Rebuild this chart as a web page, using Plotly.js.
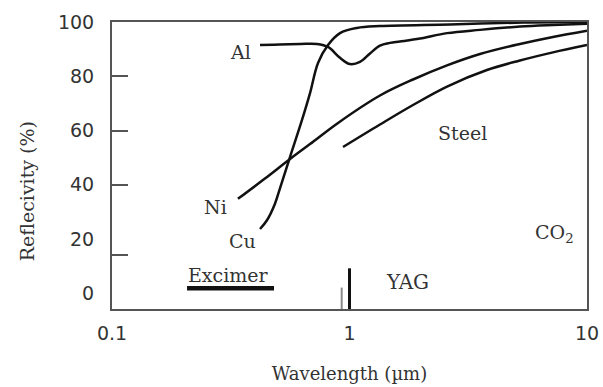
<!DOCTYPE html>
<html>
<head>
<meta charset="utf-8">
<script src="https://cdn.plot.ly/plotly-3.0.1.min.js"></script>
<style>
  html, body { margin: 0; padding: 0; background: #fff; }
  #chart { width: 603px; height: 387px; }
</style>
</head>
<body>
<div id="chart"></div>
<script>
// Reflectivity of metals versus wavelength (log scale, µm)
const wlAl    = [0.42, 0.62, 0.73, 0.812, 0.912, 1.005, 1.107, 1.22, 1.344, 1.481, 1.63, 1.981, 2.574, 3.544, 5.22, 7.19, 10];
const refAl   = [91.5, 91.9, 91.9, 90.8, 86.8, 84.5, 85.3, 88.4, 91.3, 92.3, 92.8, 93.9, 95.9, 97.1, 98.3, 98.9, 99.4];

const wlCu    = [0.42, 0.45, 0.485, 0.51, 0.562, 0.631, 0.682, 0.737, 0.812, 0.912, 1.075, 1.344, 2.65, 5.38, 10];
const refCu   = [23.7, 27.0, 32.9, 38.8, 50.3, 63.9, 73.8, 84.9, 91.5, 95.9, 97.8, 98.5, 99.1, 99.8, 100];

const wlNi    = [0.339, 0.4406, 0.562, 0.682, 0.895, 1.344, 1.851, 2.574, 3.544, 5.22, 7.19, 10];
const refNi   = [34.8, 42.3, 49.5, 55.0, 62.8, 72.9, 78.8, 84.0, 88.2, 91.9, 94.5, 96.8];

const wlSteel  = [0.939, 1.344, 1.851, 2.574, 3.79, 5.22, 7.19, 10];
const refSteel = [53.9, 62.2, 69.4, 76.2, 82.3, 85.8, 88.8, 91.5];

// Laser bands along the bottom
const excimerWl  = [0.207, 0.481];
const excimerRef = [1.85, 1.85];
const yagWl      = [1.0, 1.0];
const yagRef     = [-5.8, 9.2];
const yagWl2     = [0.927, 0.927];
const yagRef2    = [-5.8, 2.1];

// Axis ticks
const yTickVals   = [0, 20, 40, 60, 80, 100];
const yTickText   = ['0', '20', '40', '60', '80', '100'];
const yMarkVals   = [14, 40, 60, 80];
const xTickVals   = [0.1, 1, 10];
const xTickText   = ['0.1', '1', '10'];
const yRange      = [-5.8, 100];

const SERIF = 'DejaVu Serif, serif';
const SANS  = 'DejaVu Sans, sans-serif';
const INK   = '#111';

function curve(x, y) {
  return { x: x, y: y, type: 'scatter', mode: 'lines', showlegend: false,
           hoverinfo: 'skip',
           line: { color: INK, width: 2.5, shape: 'spline', smoothing: 1 } };
}

const traces = [
  curve(wlAl, refAl),
  curve(wlCu, refCu),
  curve(wlNi, refNi),
  curve(wlSteel, refSteel),
  { x: excimerWl, y: excimerRef, type: 'scatter', mode: 'lines', showlegend: false,
    line: { color: INK, width: 4.5 } },
  { x: yagWl, y: yagRef, type: 'scatter', mode: 'lines', showlegend: false,
    line: { color: INK, width: 3 } },
  { x: yagWl2, y: yagRef2, type: 'scatter', mode: 'lines', showlegend: false,
    line: { color: '#8a8a8a', width: 2 } },
  // carries the inner tick marks of the left axis
  { x: [0.1], y: [50], type: 'scatter', mode: 'markers', yaxis: 'y2',
    showlegend: false, hoverinfo: 'skip', marker: { opacity: 0 } }
];

function label(text, lam, val, size) {
  return { text: text, x: Math.log10(lam), y: val, xref: 'x', yref: 'y',
           showarrow: false, xanchor: 'center', yanchor: 'middle',
           font: { family: SERIF, size: size || 19, color: '#333' } };
}

const layout = {
  width: 603, height: 387,
  margin: { l: 112, r: 16, t: 22, b: 78, pad: 0 },
  paper_bgcolor: '#fff', plot_bgcolor: '#fff',
  showlegend: false,
  xaxis: {
    type: 'log', range: [-1, 1],
    tickmode: 'array', tickvals: xTickVals, ticktext: xTickText,
    ticks: '', showgrid: false, zeroline: false,
    showline: true, mirror: true, linecolor: '#555', linewidth: 2,
    tickfont: { family: SANS, size: 19, color: '#333' },
    ticklabelstandoff: 6,
    title: { text: 'Wavelength (µm)', font: { family: SERIF, size: 18, color: '#333' }, standoff: 25 }
  },
  yaxis: {
    range: yRange, tickmode: 'array', tickvals: yTickVals, ticktext: yTickText,
    ticks: '', showgrid: false, zeroline: false,
    showline: true, mirror: true, linecolor: '#555', linewidth: 2,
    tickfont: { family: SANS, size: 19, color: '#333' },
    ticklabelstandoff: 12
  },
  yaxis2: {
    overlaying: 'y', side: 'left', range: yRange,
    tickmode: 'array', tickvals: yMarkVals, showticklabels: false,
    ticks: 'inside', ticklen: 16, tickwidth: 2, tickcolor: '#555',
    showgrid: false, zeroline: false, showline: false
  },
  annotations: [
    label('Al', 0.346, 89.1),
    label('Steel', 2.98, 59.2),
    label('Ni', 0.2715, 31.9),
    label('Cu', 0.3527, 19.3),
    label('Excimer', 0.31, 6.8),
    label('YAG', 1.763, 4.0, 20),
    label('CO<sub>2</sub>', 7.33, 21.9),
    { text: 'Reflecivity (%)', xref: 'paper', yref: 'paper',
      x: -0.179, y: 0.41, xanchor: 'center', yanchor: 'middle',
      textangle: -90, showarrow: false,
      font: { family: SERIF, size: 19, color: '#333' } }
  ]
};

Plotly.newPlot('chart', traces, layout, { staticPlot: true, displayModeBar: false });
</script>
</body>
</html>
